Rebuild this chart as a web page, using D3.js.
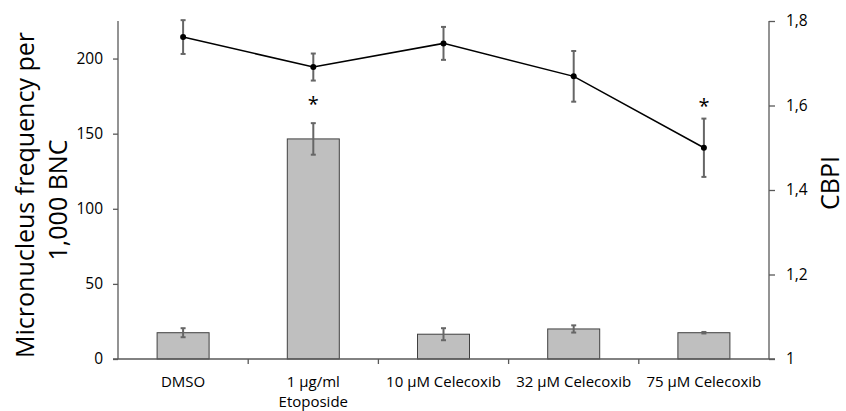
<!DOCTYPE html>
<html>
<head>
<meta charset="utf-8">
<script src="https://cdn.jsdelivr.net/npm/d3@7"></script>
<style>
  body { margin: 0; background: #fff; }
  text { font-family: "Open Sans", sans-serif; fill: #000; }
</style>
</head>
<body>
<div id="chart"></div>
<script>
var categories = ["DMSO", "1 µg/ml|Etoposide", "10 µM Celecoxib", "32 µM Celecoxib", "75 µM Celecoxib"];
var mnValues = [17.5, 146.5, 16.5, 20, 17.5];
var mnErrors = [3, 10.5, 4, 2.4, 0.5];
var cbpiValues = [1.762, 1.691, 1.747, 1.669, 1.5];
var cbpiErrors = [0.04, 0.032, 0.039, 0.06, 0.069];
var leftTicks = [0, 50, 100, 150, 200];
var rightTicks = [1, 1.2, 1.4, 1.6, 1.8];

var svgWidth = 846;
var svgHeight = 411;
var margin = { top: 21, right: 77, bottom: 52, left: 118 };
var chartWidth = svgWidth - margin.left - margin.right;
var chartHeight = svgHeight - margin.top - margin.bottom;

var svg = d3.select("#chart").append("svg")
  .attr("width", svgWidth)
  .attr("height", svgHeight);

var chartGroup = svg.append("g")
  .attr("transform", `translate(${margin.left},${margin.top})`);

var xScale = d3.scaleBand()
  .domain(categories)
  .range([0, chartWidth])
  .paddingInner(0)
  .paddingOuter(0);

var barWidth = 52;

var yLeft = d3.scaleLinear().domain([0, 225]).range([chartHeight, 0]);
var yRight = d3.scaleLinear().domain([1, 1.8]).range([chartHeight, 0]);

var axisColor = "#595959";
var errColor = "#666666";
var tickFont = "15.5px";

// bars
chartGroup.selectAll(".bar")
  .data(mnValues)
  .enter()
  .append("rect")
  .attr("class", "bar")
  .attr("x", (d, i) => xScale(categories[i]) + xScale.bandwidth() / 2 - barWidth / 2)
  .attr("y", d => yLeft(d))
  .attr("width", barWidth)
  .attr("height", d => chartHeight - yLeft(d))
  .attr("fill", "#bfbfbf")
  .attr("stroke", "#404040")
  .attr("stroke-width", 1);

function drawErrors(vals, errs, scale, cls) {
  var g = chartGroup.append("g").attr("class", cls);
  vals.forEach(function(v, i) {
    var cx = xScale(categories[i]) + xScale.bandwidth() / 2;
    var y1 = scale(v + errs[i]);
    var y2 = scale(v - errs[i]);
    g.append("line").attr("x1", cx).attr("x2", cx).attr("y1", y1).attr("y2", y2)
      .attr("stroke", errColor).attr("stroke-width", 2);
    [y1, y2].forEach(function(y) {
      g.append("line").attr("x1", cx - 2.5).attr("x2", cx + 2.5).attr("y1", y).attr("y2", y)
        .attr("stroke", errColor).attr("stroke-width", 2);
    });
  });
}

drawErrors(mnValues, mnErrors, yLeft, "barErr");

// x axis
var xAxis = d3.axisBottom(xScale).tickSize(0).tickFormat("");
var xg = chartGroup.append("g")
  .attr("transform", `translate(0,${chartHeight})`)
  .call(xAxis);
xg.select(".domain").remove();

// category separator ticks
chartGroup.selectAll(".sep")
  .data(d3.range(1, categories.length))
  .enter()
  .append("line")
  .attr("x1", i => xScale(categories[i]))
  .attr("x2", i => xScale(categories[i]))
  .attr("y1", chartHeight)
  .attr("y2", chartHeight + 5)
  .attr("stroke", axisColor)
  .attr("stroke-width", 1.3);

chartGroup.append("line")
  .attr("x1", -5).attr("x2", chartWidth + 6)
  .attr("y1", chartHeight).attr("y2", chartHeight)
  .attr("stroke", axisColor).attr("stroke-width", 1.3);

// category labels
categories.forEach(function(c) {
  var lines = c.split("|");
  var t = chartGroup.append("text")
    .attr("x", xScale(c) + xScale.bandwidth() / 2)
    .attr("y", chartHeight + 28)
    .attr("text-anchor", "middle")
    .style("font-size", "15px");
  lines.forEach(function(l, k) {
    t.append("tspan")
      .attr("x", xScale(c) + xScale.bandwidth() / 2)
      .attr("dy", k === 0 ? 0 : 20)
      .text(l);
  });
});

var leftAxis = d3.axisLeft(yLeft).tickValues(leftTicks).tickSize(5).tickPadding(10);
var lg = chartGroup.append("g").call(leftAxis);
lg.select(".domain").attr("stroke", axisColor).attr("stroke-width", 1.3).attr("d", `M0,0V${chartHeight}`);
lg.selectAll(".tick line").attr("stroke", axisColor).attr("stroke-width", 1.3);
lg.selectAll(".tick text").style("font-size", tickFont).style("font-family", "Open Sans").attr("fill", "#000");

var rightAxis = d3.axisRight(yRight).tickValues(rightTicks).tickSize(6).tickPadding(11)
  .tickFormat(d => d3.format(".1~f")(d).replace(".", ","));
var rg = chartGroup.append("g")
  .attr("transform", `translate(${chartWidth},0)`)
  .call(rightAxis);
rg.select(".domain").attr("stroke", axisColor).attr("stroke-width", 1.3).attr("d", `M0,0V${chartHeight}`);
rg.selectAll(".tick line").attr("stroke", axisColor).attr("stroke-width", 1.3);
rg.selectAll(".tick text").style("font-size", tickFont).style("font-family", "Open Sans").attr("fill", "#000");

// CBPI line
drawErrors(cbpiValues, cbpiErrors, yRight, "lineErr");

var line = d3.line()
  .x((d, i) => xScale(categories[i]) + xScale.bandwidth() / 2)
  .y(d => yRight(d));

chartGroup.append("path")
  .datum(cbpiValues)
  .attr("d", line)
  .attr("fill", "none")
  .attr("stroke", "#000")
  .attr("stroke-width", 1.5);

chartGroup.selectAll(".pt")
  .data(cbpiValues)
  .enter()
  .append("circle")
  .attr("cx", (d, i) => xScale(categories[i]) + xScale.bandwidth() / 2)
  .attr("cy", d => yRight(d))
  .attr("r", 3)
  .attr("fill", "#000");

// significance marks
chartGroup.append("text")
  .attr("x", xScale(categories[1]) + xScale.bandwidth() / 2)
  .attr("y", yLeft(mnValues[1] + mnErrors[1]) - 12)
  .attr("text-anchor", "middle")
  .style("font-size", "20px")
  .text("*");

chartGroup.append("text")
  .attr("x", xScale(categories[4]) + xScale.bandwidth() / 2)
  .attr("y", yRight(cbpiValues[4] + cbpiErrors[4]) - 6)
  .attr("text-anchor", "middle")
  .style("font-size", "20px")
  .text("*");

// axis titles
svg.append("text")
  .attr("transform", "translate(34,195) rotate(-90)")
  .attr("text-anchor", "middle")
  .style("font-size", "25px")
  .text("Micronucleus frequency per");

svg.append("text")
  .attr("transform", "translate(67,200) rotate(-90)")
  .attr("text-anchor", "middle")
  .style("font-size", "25px")
  .text("1,000 BNC");

svg.append("text")
  .attr("transform", "translate(839,183) rotate(-90)")
  .attr("text-anchor", "middle")
  .style("font-size", "25px")
  .text("CBPI");
</script>
</body>
</html>
